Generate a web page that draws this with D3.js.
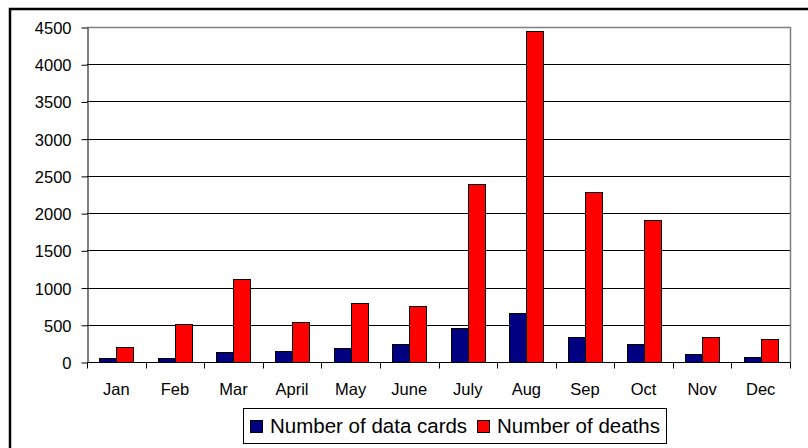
<!DOCTYPE html>
<meta charset="utf-8">
<style>
body { margin: 0; background: #fff; }
text { font-family: "Liberation Sans", Arial, sans-serif; fill: #000; }
</style>
<body>
<script src="https://d3js.org/d3.v7.min.js"></script>
<script>

// chart data
var months = ["Jan", "Feb", "Mar", "April", "May", "June", "July", "Aug", "Sep", "Oct", "Nov", "Dec"];
var dataCards = [50, 50, 130, 148, 188, 246, 461, 663, 340, 242, 107, 71];
var deaths = [205, 515, 1110, 533, 793, 757, 2390, 4440, 2284, 1907, 340, 305];
var yTicks = [0, 500, 1000, 1500, 2000, 2500, 3000, 3500, 4000, 4500];
var seriesNames = ["Number of data cards", "Number of deaths"];
var seriesColors = ["#000080", "#ff0000"];

var W = 808, H = 448;
var plot = {left: 87, top: 27, right: 790, bottom: 362};

var svg = d3.select("body").append("svg")
    .attr("width", W)
    .attr("height", H);

// outer chart frame (cut off at right/bottom)
svg.append("rect")
    .attr("x", 10).attr("y", 9)
    .attr("width", W + 20).attr("height", H + 20)
    .attr("fill", "#fff")
    .attr("stroke", "#000")
    .attr("stroke-width", 2.5);

var x = d3.scaleBand().domain(months).range([plot.left, plot.right]);
var y = d3.scaleLinear().domain([0, 4500]).range([plot.bottom, plot.top]);

var barW = x.bandwidth() * 0.29;
var pad = (x.bandwidth() - 2 * barW) / 2;

// gridlines
svg.append("g")
  .selectAll("line")
  .data(yTicks.slice(1, -1))
  .join("line")
    .attr("x1", plot.left).attr("x2", plot.right)
    .attr("y1", function(d) { return Math.round(y(d)) + 0.5; })
    .attr("y2", function(d) { return Math.round(y(d)) + 0.5; })
    .attr("stroke", "#000");

// plot area border (top & right gray)
svg.append("path")
    .attr("d", "M" + plot.left + "," + (plot.top + 0.5) + "H" + (plot.right + 0.5) + "V" + plot.bottom)
    .attr("fill", "none")
    .attr("stroke", "#808080")
    .attr("stroke-width", 1.5);

// bars
var series = [dataCards, deaths];
series.forEach(function(vals, si) {
  svg.append("g")
    .selectAll("rect")
    .data(vals)
    .join("rect")
      .attr("x", function(d, i) { return Math.round(x(months[i]) + pad + si * barW) + 0.5; })
      .attr("y", function(d) { return Math.round(y(d)) + 0.5; })
      .attr("width", Math.round(barW))
      .attr("height", function(d) { return Math.round(y(0)) - Math.round(y(d)); })
      .attr("fill", seriesColors[si])
      .attr("stroke", "#000")
      .attr("stroke-width", 1);
});

// y axis
var yAxis = svg.append("g")
    .attr("transform", "translate(" + (plot.left + 0.5) + ",0.5)")
    .call(d3.axisLeft(y).tickValues(yTicks).tickFormat(d3.format("d"))
      .tickSize(6).tickPadding(10).tickSizeOuter(0));
yAxis.attr("font-family", null).attr("font-size", null);
yAxis.selectAll("text").style("font-size", "16.5px").attr("dy", "0.36em");
yAxis.selectAll("line, path").attr("stroke", "#000");

// x axis with ticks between categories
var xg = svg.append("g")
    .attr("transform", "translate(0," + (Math.round(plot.bottom) + 0.5) + ")");
xg.append("line")
    .attr("x1", plot.left).attr("x2", plot.right + 1)
    .attr("stroke", "#000");
xg.selectAll(".tk")
  .data(months.concat([null]))
  .join("line")
    .attr("class", "tk")
    .attr("x1", function(d, i) { return Math.round(plot.left + i * x.step()) + 0.5; })
    .attr("x2", function(d, i) { return Math.round(plot.left + i * x.step()) + 0.5; })
    .attr("y1", 0).attr("y2", 6)
    .attr("stroke", "#000");
xg.selectAll("text")
  .data(months)
  .join("text")
    .attr("x", function(d) { return x(d) + x.bandwidth() / 2; })
    .attr("y", 32)
    .attr("text-anchor", "middle")
    .style("font-size", "16.5px")
    .text(function(d) { return d; });

// legend
var leg = svg.append("g");
leg.append("rect")
    .attr("x", 243.5).attr("y", 408.5)
    .attr("width", 423).attr("height", 35)
    .attr("fill", "#fff")
    .attr("stroke", "#000");
var legX = [250, 477];
seriesNames.forEach(function(name, i) {
  leg.append("rect")
      .attr("x", legX[i] + 0.5).attr("y", 420.5)
      .attr("width", 12).attr("height", 12)
      .attr("fill", seriesColors[i])
      .attr("stroke", "#000");
  leg.append("text")
      .attr("x", legX[i] + 20).attr("y", 433)
      .style("font-size", "20.5px")
      .text(name);
});

</script>
</body>
